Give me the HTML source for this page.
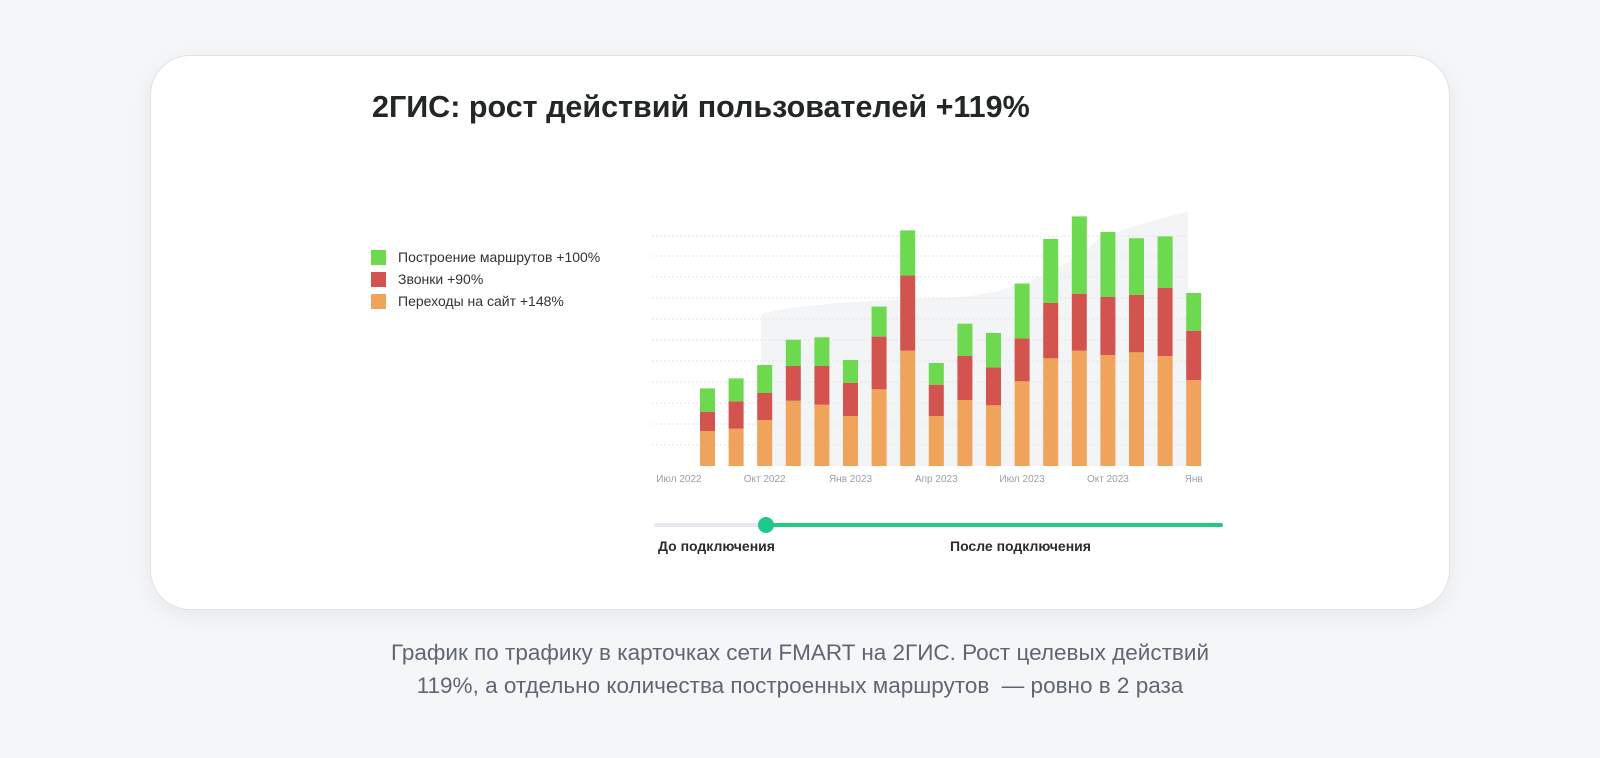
<!DOCTYPE html>
<html><head><meta charset="utf-8"><style>
html,body{margin:0;padding:0;width:1600px;height:758px;background:#f5f6f8;overflow:hidden;font-family:"Liberation Sans",sans-serif;}
#card{position:absolute;left:150px;top:55px;width:1300px;height:555px;background:#fff;border:1px solid #dfe3e9;border-radius:40px;box-shadow:0 6px 24px rgba(0,0,0,0.06);box-sizing:border-box;}
#title{position:absolute;left:372px;top:90px;font-size:30.5px;font-weight:bold;color:#222626;white-space:nowrap;}
.leg{position:absolute;left:371px;font-size:14px;color:#333;white-space:nowrap;}
.leg i{position:absolute;left:0;top:0;width:15px;height:15px;}
.leg span{position:absolute;left:27px;top:-1px;}
#caption{position:absolute;left:0;width:1600px;top:636px;text-align:center;font-size:22.5px;line-height:33px;color:#5f6673;}
.sl{position:absolute;top:538px;font-size:14px;font-weight:bold;color:#2a2d2e;}
</style></head><body>
<div id="card"></div>
<div id="title">2ГИС: рост действий пользователей +119%</div>
<div class="leg" style="top:250px"><i style="background:#6cd94f"></i><span>Построение маршрутов +100%</span></div>
<div class="leg" style="top:272px"><i style="background:#d3544f"></i><span>Звонки +90%</span></div>
<div class="leg" style="top:294px"><i style="background:#f0a35b"></i><span>Переходы на сайт +148%</span></div>
<svg id="chart" width="1600" height="758" style="position:absolute;left:0;top:0"></svg>
<div class="sl" style="left:658px">До подключения</div>
<div class="sl" style="left:950px">После подключения</div>
<div id="caption">График по трафику в карточках сети FMART на 2ГИС. Рост целевых действий<br>119%, а отдельно количества построенных маршрутов &nbsp;— ровно в 2 раза</div>
<script>
const categories=["Июл 2022","Авг 2022","Сен 2022","Окт 2022","Ноя 2022","Дек 2022","Янв 2023","Фев 2023","Мар 2023","Апр 2023","Май 2023","Июн 2023","Июл 2023","Авг 2023","Сен 2023","Окт 2023","Ноя 2023","Дек 2023","Янв"];
const siteValues=[0,35,37.3,46,65.3,61.3,50,76.7,115.3,50,66,60.7,84.7,107.7,115.3,111,113.7,110,86];
const callValues=[0,19.3,27.3,27,34.7,38.7,33,52.7,75.3,31.3,44.3,38,43,55.3,57,58,57.3,68.3,49.3];
const routeValues=[0,23.3,23,28,26.3,28.7,23,30,45,21.7,32,34.3,54.7,64,77.3,65,56.7,51.3,37.7];
const tickLabels=["Июл 2022","Окт 2022","Янв 2023","Апр 2023","Июл 2023","Окт 2023","Янв"];
const tickIndex=[0,3,6,9,12,15,18];
const gridValues=[21,42,63,84,105,126,147,168,189,210,230];

const NS="http://www.w3.org/2000/svg";
const svg=document.getElementById('chart');
const baseY=466, x0=678.9, step=28.6, bw=15;
function xScale(i){return x0+step*i;}
function yScale(v){return baseY-v;}
function mk(t,a){const e=document.createElementNS(NS,t);for(const k in a)e.setAttribute(k,a[k]);svg.appendChild(e);return e;}

const bg=mk('path',{d:'M761,466 L761,314 Q800,303 900,300 L960,297 Q1040,290 1100,238 Q1150,220 1188,212 L1188,466 Z',fill:'#f3f4f6'});



gridValues.forEach(v=>{
  const g=mk('line',{x1:652,x2:1186,y1:yScale(v),y2:yScale(v),stroke:'#e3e6ea','stroke-width':1,'stroke-dasharray':'2,2'});
  
  
});

const colors=['#f0a35b','#d3544f','#6cd94f'];
const series=[siteValues,callValues,routeValues];
const names=['site','calls','routes'];
categories.forEach((c,i)=>{
  let acc=0;
  series.forEach((s,k)=>{
    const v=s[i]; if(!v){return;}
    const r=mk('rect',{x:xScale(i)-bw/2,y:yScale(acc+v),width:bw,height:v,fill:colors[k]});
    
    
    acc+=v;
  });
});

tickLabels.forEach((t,j)=>{
  const e=mk('text',{x:xScale(tickIndex[j]),y:482,'text-anchor':'middle','font-size':'10','fill':'#9aa0aa','font-family':'Liberation Sans, sans-serif'});
  e.textContent=t;
  
  
});

const t1=mk('line',{x1:656,x2:766,y1:525,y2:525,stroke:'#e6e8ef','stroke-width':4,'stroke-linecap':'round'});


const t2=mk('line',{x1:766,x2:1221,y1:525,y2:525,stroke:'#1ec98a','stroke-width':4,'stroke-linecap':'round'});


const kn=mk('circle',{cx:766,cy:525,r:8,fill:'#1ec98a'});


</script>
</body></html>
